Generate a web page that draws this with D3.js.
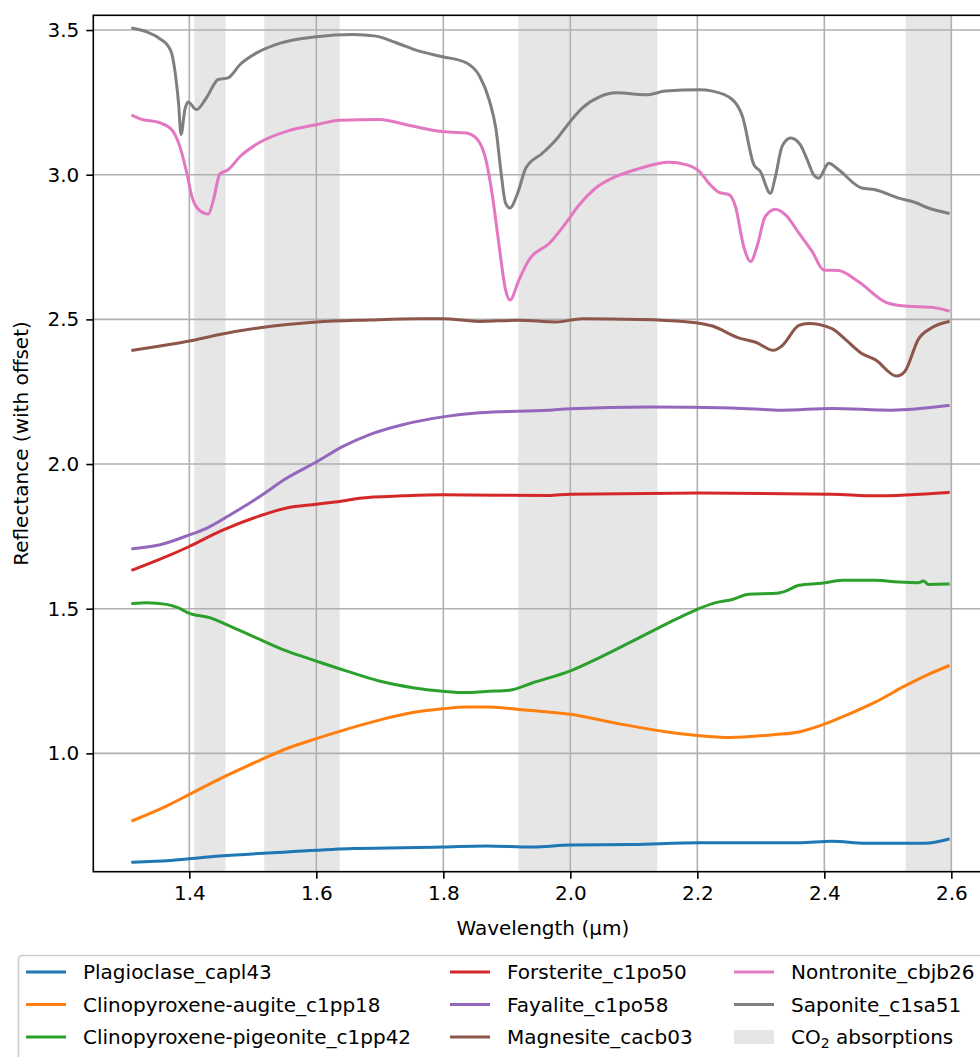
<!DOCTYPE html>
<html>
<head>
<meta charset="utf-8">
<script src="https://cdn.jsdelivr.net/npm/d3@7"></script>
<style>
  html, body { margin: 0; padding: 0; background: #fff; overflow: hidden; }
  svg { display: block; font-family: "DejaVu Sans", sans-serif; }
</style>
</head>
<body>
<div id="chart"></div>
<script>
// ---------------- data ----------------
const seriesNames = ["Plagioclase_capl43", "Clinopyroxene-augite_c1pp18", "Clinopyroxene-pigeonite_c1pp42",
  "Forsterite_c1po50", "Fayalite_c1po58", "Magnesite_cacb03", "Nontronite_cbjb26", "Saponite_c1sa51"];
const seriesColors = ["#1f77b4", "#ff7f0e", "#2ca02c", "#d62728", "#9467bd", "#8c564b", "#e377c2", "#7f7f7f"];

const plagWl = [1.311,1.370,1.448,1.553,1.658,1.799,1.867,1.941,2.0,2.098,2.203,2.360,2.412,2.465,2.559,2.595];
const plagR  = [0.624,0.630,0.645,0.659,0.671,0.676,0.680,0.676,0.683,0.685,0.691,0.691,0.696,0.689,0.689,0.703];

const augWl = [1.311,1.364,1.400,1.448,1.511,1.553,1.600,1.647,1.699,1.752,1.799,1.836,1.867,1.919,1.966,2.0,2.072,2.150,2.200,2.250,2.323,2.360,2.399,2.438,2.480,2.527,2.564,2.595];
const augR  = [0.768,0.818,0.858,0.912,0.976,1.016,1.051,1.083,1.115,1.141,1.154,1.160,1.160,1.152,1.143,1.135,1.104,1.075,1.062,1.055,1.065,1.074,1.100,1.135,1.177,1.233,1.273,1.302];

const pigWl = [1.311,1.333,1.364,1.383,1.398,1.432,1.464,1.511,1.553,1.600,1.647,1.699,1.752,1.799,1.836,1.867,1.904,1.941,2.0,2.046,2.098,2.150,2.200,2.229,2.255,2.281,2.323,2.339,2.360,2.396,2.428,2.480,2.517,2.548,2.556,2.564,2.595];
const pigR  = [1.518,1.521,1.515,1.503,1.486,1.469,1.440,1.394,1.354,1.319,1.285,1.250,1.227,1.215,1.210,1.214,1.218,1.244,1.285,1.331,1.388,1.446,1.498,1.521,1.532,1.550,1.553,1.561,1.581,1.588,1.598,1.598,1.592,1.590,1.596,1.584,1.585];

const forWl = [1.311,1.354,1.400,1.448,1.511,1.553,1.600,1.647,1.668,1.736,1.799,1.966,2.0,2.203,2.412,2.480,2.595];
const forR  = [1.634,1.671,1.715,1.767,1.821,1.848,1.861,1.874,1.882,1.890,1.894,1.891,1.896,1.900,1.896,1.890,1.902];

const fayWl = [1.311,1.354,1.400,1.427,1.464,1.511,1.553,1.600,1.642,1.684,1.736,1.799,1.857,1.966,2.0,2.124,2.255,2.333,2.412,2.506,2.595];
const fayR  = [1.707,1.721,1.755,1.778,1.824,1.888,1.951,2.007,2.061,2.102,2.136,2.163,2.177,2.186,2.191,2.197,2.194,2.186,2.192,2.186,2.202];

const magWl = [1.311,1.354,1.400,1.448,1.511,1.600,1.684,1.762,1.799,1.857,1.919,1.977,2.019,2.108,2.182,2.224,2.265,2.292,2.320,2.333,2.360,2.375,2.412,2.433,2.459,2.480,2.514,2.527,2.548,2.569,2.595];
const magR  = [2.393,2.408,2.425,2.448,2.471,2.491,2.498,2.502,2.502,2.493,2.497,2.491,2.502,2.500,2.492,2.477,2.436,2.421,2.393,2.408,2.479,2.486,2.468,2.431,2.382,2.361,2.304,2.321,2.431,2.471,2.492];

const nonWl = [1.311,1.3225,1.354,1.372,1.385,1.396,1.404,1.414,1.430,1.438,1.448,1.461,1.480,1.511,1.553,1.600,1.637,1.699,1.747,1.794,1.836,1.854,1.867,1.8775,1.888,1.898,1.905,1.919,1.935,1.967,1.993,2.014,2.040,2.072,2.108,2.155,2.182,2.203,2.218,2.234,2.250,2.260,2.273,2.284,2.294,2.307,2.323,2.339,2.360,2.381,2.399,2.4225,2.454,2.498,2.527,2.569,2.595];
const nonR  = [3.204,3.193,3.179,3.156,3.098,3.006,2.925,2.881,2.864,2.913,3.003,3.017,3.063,3.112,3.150,3.173,3.188,3.191,3.170,3.150,3.144,3.121,3.052,2.925,2.752,2.602,2.567,2.636,2.706,2.763,2.833,2.896,2.954,2.994,3.021,3.043,3.035,3.012,2.971,2.939,2.931,2.890,2.752,2.700,2.752,2.856,2.881,2.861,2.798,2.734,2.671,2.669,2.630,2.558,2.546,2.542,2.530];

const sapWl = [1.311,1.359,1.372,1.377,1.383,1.387,1.393,1.398,1.4115,1.427,1.4455,1.461,1.480,1.506,1.542,1.600,1.658,1.694,1.726,1.762,1.799,1.836,1.857,1.872,1.883,1.891,1.898,1.905,1.917,1.930,1.9565,1.9775,1.998,2.019,2.046,2.072,2.119,2.150,2.203,2.224,2.255,2.271,2.289,2.299,2.315,2.323,2.3335,2.347,2.362,2.373,2.383,2.391,2.407,2.4225,2.459,2.480,2.517,2.543,2.564,2.595];
const sapR  = [3.506,3.462,3.421,3.364,3.248,3.139,3.225,3.251,3.225,3.266,3.329,3.335,3.381,3.421,3.454,3.477,3.485,3.479,3.456,3.427,3.408,3.387,3.341,3.260,3.156,3.006,2.902,2.885,2.936,3.023,3.075,3.121,3.179,3.231,3.269,3.283,3.276,3.289,3.294,3.289,3.260,3.202,3.035,3.012,2.936,2.994,3.098,3.127,3.104,3.052,3.000,2.988,3.040,3.017,2.954,2.948,2.919,2.904,2.885,2.867];

const co2Start = [1.408, 1.518, 1.918, 2.528];
const co2End   = [1.457, 1.637, 2.137, 2.600];

const xTicks = [1.4, 1.6, 1.8, 2.0, 2.2, 2.4, 2.6];
const yTicks = [1.0, 1.5, 2.0, 2.5, 3.0, 3.5];
const xLabel = "Wavelength (µm)";
const yLabel = "Reflectance (with offset)";

// ---------------- drawing ----------------
const W = 980, H = 1057;
const plot = { left: 93.3, top: 15.3, right: 992.3, bottom: 871.7 };

const svg = d3.select("#chart").append("svg").attr("width", W).attr("height", H);

const x = d3.scaleLinear().domain([1.2488, 2.6645]).range([plot.left, plot.right]);
const y = d3.scaleLinear().domain([0.591, 3.551]).range([plot.bottom, plot.top]);

// CO2 bands
const bands = d3.zip(co2Start, co2End);
svg.append("g").selectAll("rect").data(bands).join("rect")
  .attr("x", d => x(d[0])).attr("width", d => x(d[1]) - x(d[0]))
  .attr("y", plot.top).attr("height", plot.bottom - plot.top)
  .attr("fill", "#808080").attr("fill-opacity", 0.2);

// grid
const grid = svg.append("g").attr("stroke", "#b0b0b0").attr("stroke-width", 1.6);
grid.selectAll("line.gx").data(xTicks).join("line").attr("class", "gx")
  .attr("x1", d => x(d)).attr("x2", d => x(d)).attr("y1", plot.top).attr("y2", plot.bottom);
grid.selectAll("line.gy").data(yTicks).join("line").attr("class", "gy")
  .attr("x1", plot.left).attr("x2", plot.right).attr("y1", d => y(d)).attr("y2", d => y(d));

// lines
const allSeries = [[plagWl, plagR], [augWl, augR], [pigWl, pigR], [forWl, forR],
  [fayWl, fayR], [magWl, magR], [nonWl, nonR], [sapWl, sapR]];
const line = d3.line().x(d => x(d[0])).y(d => y(d[1])).curve(d3.curveMonotoneX);
svg.append("g").selectAll("path").data(allSeries).join("path")
  .attr("d", d => line(d3.zip(d[0], d[1])))
  .attr("fill", "none")
  .attr("stroke", (d, i) => seriesColors[i])
  .attr("stroke-width", 3)
  .attr("stroke-linejoin", "round").attr("stroke-linecap", "square");

// axes
const xAxis = d3.axisBottom(x).tickValues(xTicks).tickFormat(d3.format(".1f")).tickSize(7).tickPadding(7);
const yAxis = d3.axisLeft(y).tickValues(yTicks).tickFormat(d3.format(".1f")).tickSize(7).tickPadding(7);
const gx = svg.append("g").attr("transform", `translate(0,${plot.bottom})`).call(xAxis);
const gy = svg.append("g").attr("transform", `translate(${plot.left},0)`).call(yAxis);
[gx, gy].forEach(g => {
  g.select(".domain").remove();
  g.selectAll(".tick line").attr("stroke", "#000").attr("stroke-width", 1.6);
  g.selectAll(".tick text").attr("fill", "#000").attr("font-size", 20)
    .attr("font-family", "DejaVu Sans, sans-serif");
});

// spines
const sp = svg.append("g").attr("stroke", "#000").attr("stroke-width", 1.6).attr("fill", "none");
sp.append("rect").attr("x", plot.left).attr("y", plot.top)
  .attr("width", plot.right - plot.left).attr("height", plot.bottom - plot.top);

// axis labels
svg.append("text").attr("x", (plot.left + plot.right) / 2).attr("y", 935)
  .attr("text-anchor", "middle").attr("font-size", 20).attr("fill", "#000").text(xLabel);
svg.append("text").attr("transform", `translate(28,${(plot.top + plot.bottom) / 2}) rotate(-90)`)
  .attr("text-anchor", "middle").attr("font-size", 20).attr("fill", "#000").text(yLabel);

// legend
const leg = svg.append("g");
leg.append("rect").attr("x", 18.5).attr("y", 955.5).attr("width", 1000).attr("height", 130)
  .attr("rx", 4).attr("fill", "#fff").attr("fill-opacity", 0.8)
  .attr("stroke", "#cccccc").attr("stroke-width", 1.6);
const colX = [26, 450, 734];
const rowY = [972, 1004.5, 1037];
seriesNames.forEach((name, i) => {
  const c = Math.floor(i / 3), r = i % 3;
  const g = leg.append("g");
  g.append("line").attr("x1", colX[c]).attr("x2", colX[c] + 40)
    .attr("y1", rowY[r]).attr("y2", rowY[r])
    .attr("stroke", seriesColors[i]).attr("stroke-width", 3);
  g.append("text").attr("x", colX[c] + 57).attr("y", rowY[r] + 7)
    .attr("font-size", 20).attr("fill", "#000").text(name);
});
// CO2 patch
leg.append("rect").attr("x", colX[2]).attr("y", rowY[2] - 7).attr("width", 40).attr("height", 14)
  .attr("fill", "#808080").attr("fill-opacity", 0.2);
const co2t = leg.append("text").attr("x", colX[2] + 57).attr("y", rowY[2] + 7)
  .attr("font-size", 20).attr("fill", "#000");
co2t.append("tspan").text("CO");
co2t.append("tspan").attr("font-size", 14).attr("dy", 4).text("2");
co2t.append("tspan").attr("dy", -4).text(" absorptions");
</script>
</body>
</html>
